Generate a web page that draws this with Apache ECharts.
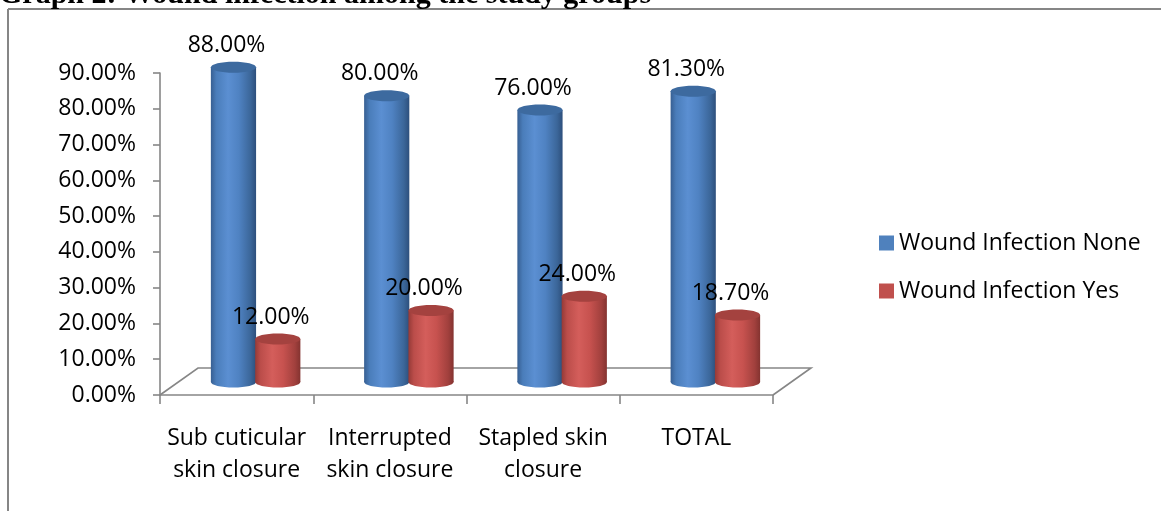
<!DOCTYPE html>
<html>
<head>
<meta charset="utf-8">
<style>
  html, body { margin: 0; padding: 0; background: #ffffff; }
  #chart { width: 1161px; height: 511px; }
</style>
<script src="https://cdn.jsdelivr.net/npm/echarts@6/dist/echarts.min.js"></script>
</head>
<body>
<div id="chart"></div>
<script>
// Wound infection by closure technique
const categories = ['Sub cuticular\nskin closure', 'Interrupted\nskin closure', 'Stapled skin\nclosure', 'TOTAL'];
const seriesNames = ['Wound Infection None', 'Wound Infection Yes'];
const noneValues = [0.88, 0.80, 0.76, 0.813];
const yesValues = [0.12, 0.20, 0.24, 0.187];
const yMin = 0, yMax = 0.9, yStep = 0.1;

const FONT = '"Open Sans", "Noto Sans", sans-serif';
const FS = 23;
const AXIS_GREY = '#868686';
// receding depth of the 3-D floor (x, y in pixels)
const DEPTH = [38, -27];

const fmtPct = v => (v * 100).toFixed(2) + '%';

// horizontal shading for a cylinder body
function cylGradient(stops) {
  return new echarts.graphic.LinearGradient(0, 0, 1, 0,
    stops.map(s => ({ offset: s[0], color: s[1] })));
}
const palettes = [
  { // blue
    body: [[0, '#375F92'], [0.12, '#4A7DBA'], [0.38, '#5B8FD2'], [0.62, '#4F82C2'], [0.88, '#3B6699'], [1, '#2D4F7C']],
    top: '#3D6A9F', legend: '#4F81BD'
  },
  { // red
    body: [[0, '#953A37'], [0.12, '#BB4D4A'], [0.38, '#D45E5B'], [0.62, '#C7524F'], [0.88, '#A1403D'], [1, '#843330']],
    top: '#A4423F', legend: '#C0504D'
  }
];

function cylinderRenderer(side) {
  const pal = palettes[side];
  return function (params, api) {
    const cat = api.value(0);
    const v = api.value(1);
    const top = api.coord([cat, v]);
    const base = api.coord([cat, 0]);
    const band = api.size([1, 0])[0];
    const w = band * 0.295;
    const cx = top[0] + (side === 0 ? -1 : 1) * w * 0.49;
    const rx = w / 2, ry = 5.5;
    const fill = cylGradient(pal.body);
    return {
      type: 'group',
      children: [
        { type: 'ellipse', shape: { cx: cx, cy: base[1], rx: rx, ry: ry }, style: { fill: fill } },
        { type: 'rect', shape: { x: cx - rx, y: top[1], width: w, height: base[1] - top[1] }, style: { fill: fill } },
        { type: 'ellipse', shape: { cx: cx, cy: top[1], rx: rx, ry: ry }, style: { fill: pal.top } },
        {
          type: 'text',
          style: {
            x: cx - 7, y: top[1] - 22,
            text: fmtPct(v),
            fill: '#000000',
            font: FS + 'px ' + FONT,
            align: 'center', verticalAlign: 'middle'
          }
        }
      ]
    };
  };
}

// floor outline receding behind the category axis
function floorRenderer(params, api) {
  const cs = params.coordSys;
  const x0 = cs.x, x1 = cs.x + cs.width, y = cs.y + cs.height;
  return {
    type: 'polyline',
    shape: { points: [[x0, y], [x0 + DEPTH[0], y + DEPTH[1]], [x1 + DEPTH[0], y + DEPTH[1]], [x1, y]] },
    style: { stroke: AXIS_GREY, lineWidth: 1.6, fill: null }
  };
}

const chart = echarts.init(document.getElementById('chart'), null, { renderer: 'canvas' });

chart.setOption({
  animation: false,
  backgroundColor: '#ffffff',
  textStyle: { fontFamily: FONT },
  graphic: [
    {
      type: 'text', left: -1, top: -20, z: 10,
      style: { text: 'Graph 2: Wound infection among the study groups', font: 'bold 30px "Liberation Serif", serif', fill: '#000000' }
    },
    { type: 'line', shape: { x1: 8, y1: 9, x2: 1161, y2: 9 }, style: { stroke: AXIS_GREY, lineWidth: 2 } },
    { type: 'line', shape: { x1: 8, y1: 9, x2: 8, y2: 511 }, style: { stroke: AXIS_GREY, lineWidth: 2 } }
  ],
  legend: {
    orient: 'vertical',
    left: 874, top: 225,
    icon: 'rect',
    itemWidth: 15, itemHeight: 15,
    itemGap: 22,
    data: seriesNames,
    textStyle: { fontSize: FS, lineHeight: 26, color: '#000000', fontFamily: FONT }
  },
  grid: [
    { left: 160, right: 388, top: 73, bottom: 116 },
    { left: 179, right: 369, top: 60, bottom: 129 }
  ],
  xAxis: [
    {
      type: 'category', gridIndex: 0, data: categories,
      axisLine: { lineStyle: { color: AXIS_GREY, width: 1.6 } },
      axisTick: { show: true, length: 9, lineStyle: { color: AXIS_GREY, width: 1.6 } },
      axisLabel: { color: '#000000', fontSize: FS, lineHeight: 32, margin: 27, verticalAlign: 'top', fontFamily: FONT, interval: 0 }
    },
    { type: 'category', gridIndex: 1, data: categories, show: false }
  ],
  yAxis: [
    {
      type: 'value', gridIndex: 0, min: yMin, max: yMax, interval: yStep,
      axisLine: { show: true, lineStyle: { color: AXIS_GREY, width: 1.6 } },
      axisTick: { show: true, length: 7, lineStyle: { color: AXIS_GREY, width: 1.6 } },
      splitLine: { show: false },
      axisLabel: { color: '#000000', fontSize: FS, margin: 24, formatter: fmtPct, fontFamily: FONT }
    },
    { type: 'value', gridIndex: 1, min: yMin, max: yMax, interval: yStep, show: false, splitLine: { show: false } }
  ],
  series: [
    {
      type: 'custom', name: '_floor', xAxisIndex: 0, yAxisIndex: 0,
      data: [[0, 0]], renderItem: floorRenderer, silent: true, z: 1
    },
    {
      type: 'custom', name: seriesNames[0], xAxisIndex: 1, yAxisIndex: 1,
      itemStyle: { color: palettes[0].legend },
      encode: { x: 0, y: 1 },
      data: noneValues.map((v, i) => [i, v]),
      renderItem: cylinderRenderer(0), z: 2
    },
    {
      type: 'custom', name: seriesNames[1], xAxisIndex: 1, yAxisIndex: 1,
      itemStyle: { color: palettes[1].legend },
      encode: { x: 0, y: 1 },
      data: yesValues.map((v, i) => [i, v]),
      renderItem: cylinderRenderer(1), z: 3
    }
  ]
});
</script>
</body>
</html>
